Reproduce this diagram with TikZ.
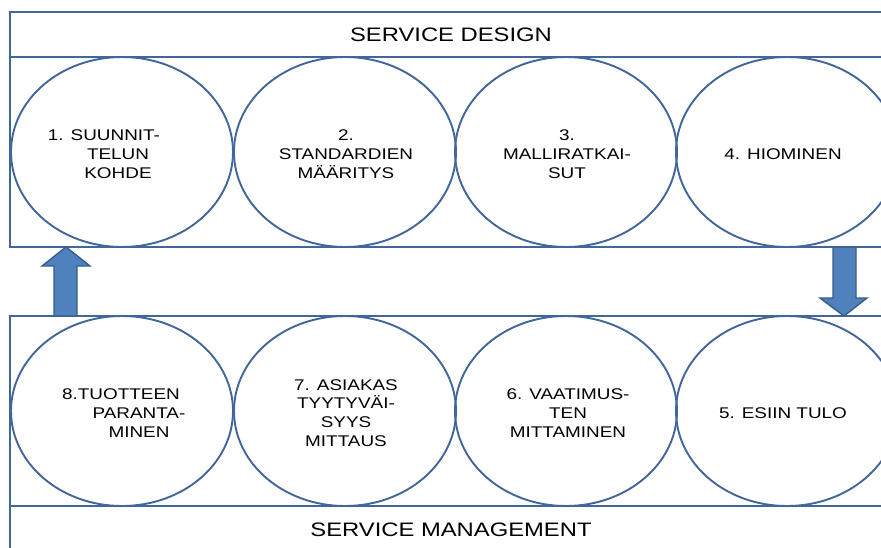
\documentclass[tikz,border=0pt]{standalone}
\usepackage{fontspec}
\setmainfont{Liberation Sans}[FakeStretch=1.22]
\usetikzlibrary{shapes.geometric}
\definecolor{edge}{HTML}{41669A}
\definecolor{arrfill}{HTML}{4F81BD}
\definecolor{arredge}{HTML}{385D8A}
\tikzset{
  band/.style={draw=edge, line width=1.7pt},
  bubble/.style={draw=edge, line width=1.9pt, ellipse, minimum width=222pt, minimum height=190pt, inner sep=0pt},
  label/.style={align=center, font=\fontsize{15.5}{18.7}\selectfont, inner sep=0pt, text=black},
  title/.style={font=\fontsize{19.5}{22}\selectfont, inner sep=0pt, text=black},
  bigarrow/.style={fill=arrfill, draw=arredge, line width=1.4pt, line join=miter}
}
\begin{document}
\begin{tikzpicture}[x=1pt,y=-1pt]
\useasboundingbox (0,0) rectangle (881,547);
\clip (0,0) rectangle (881,547);
% top band
\draw[band] (900,12) -- (10,12) -- (10,247) -- (900,247);
\draw[band] (10,57) -- (900,57);
% bottom band
\draw[band] (900,316) -- (10,316) -- (10,560);
\draw[band] (10,506) -- (900,506);
\node[title] (sd) at (451,35) {SERVICE DESIGN};
\node[title] (sm) at (451,530) {SERVICE MANAGEMENT};
% top ellipses
\node[bubble] (e1) at (122,152) {};
\node[bubble] (e2) at (345,152) {};
\node[bubble] (e3) at (566,152) {};
\node[bubble] (e4) at (787,152) {};
% bottom ellipses
\node[bubble] (e8) at (122,411) {};
\node[bubble] (e7) at (345,411) {};
\node[bubble] (e6) at (566,411) {};
\node[bubble] (e5) at (787,411) {};
% texts
\node[label] (t1) at (118,154) {1. SUUNNIT-\hspace*{28pt}\\TELUN\\KOHDE};
\node[label] (t2) at (346,154) {2.\\STANDARDIEN\\MÄÄRITYS};
\node[label] (t3) at (567,154) {3.\\MALLIRATKAI-\\SUT};
\node[label] (t4) at (783,154) {4. HIOMINEN};
\node[label] (t8) at (139,413) {8.TUOTTEEN\hspace*{36pt}\\PARANTA-\\MINEN};
\node[label] (t7) at (346,413) {7. ASIAKAS\\TYYTYVÄI-\\SYYS\\MITTAUS};
\node[label] (t6) at (568,413) {6. VAATIMUS-\\TEN\\MITTAMINEN};
\node[label] (t5) at (783,413) {5. ESIIN TULO};
% arrows
\draw[bigarrow] (54,316) -- (54,266) -- (42,266) -- (66,247) -- (90,266) -- (77,266) -- (77,316) -- cycle;
\draw[bigarrow] (833,247) -- (833,298) -- (820,298) -- (844,316) -- (867,298) -- (856,298) -- (856,247) -- cycle;
\end{tikzpicture}
\end{document}
